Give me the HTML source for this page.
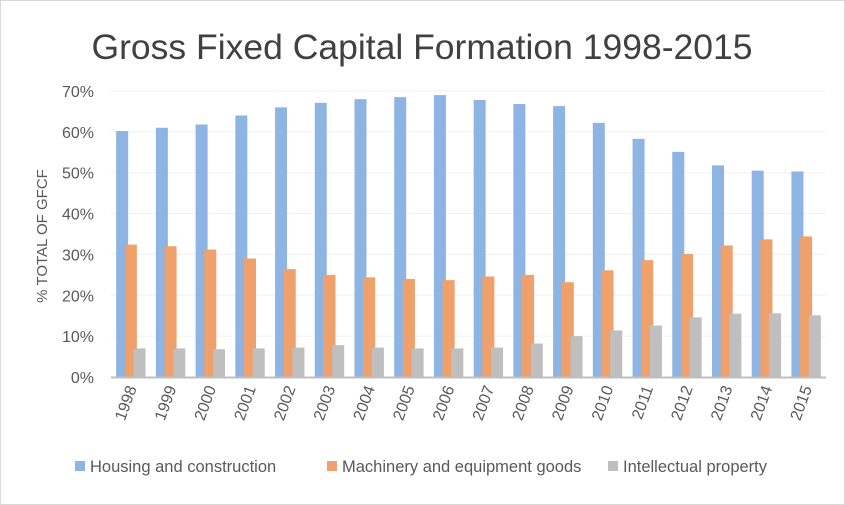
<!DOCTYPE html>
<html><head><meta charset="utf-8"><style>
body{margin:0;background:#fff;}
svg{display:block;font-family:"Liberation Sans",sans-serif;}
</style></head><body>
<svg id="chart" width="845" height="505" viewBox="0 0 845 505">
<rect x="0.5" y="0.5" width="844" height="504" fill="#fff" stroke="#d9d9d9"/>
<text x="422" y="59" text-anchor="middle" font-size="35.5" fill="#404040">Gross Fixed Capital Formation 1998-2015</text>
<text transform="translate(47,236) rotate(-90)" text-anchor="middle" font-size="15" fill="#595959">% TOTAL OF GFCF</text>
<g id="grid"></g><g id="bars"></g><g id="xlabels"></g>
<g font-size="16.5" fill="#595959">
<rect x="75" y="461" width="10" height="10" fill="#8db4e2"/>
<text x="90" y="472">Housing and construction</text>
<rect x="327" y="461" width="10" height="10" fill="#f0a06a"/>
<text x="342" y="472">Machinery and equipment goods</text>
<rect x="608" y="461" width="10" height="10" fill="#bfbfbf"/>
<text x="623" y="472">Intellectual property</text>
</g>
</svg>
<script>
const years=["1998","1999","2000","2001","2002","2003","2004","2005","2006","2007","2008","2009","2010","2011","2012","2013","2014","2015"];
const housing=[60.2,61,61.8,64,66,67.1,68,68.5,69,67.8,66.8,66.3,62.2,58.3,55.1,51.8,50.5,50.3];
const machinery=[32.4,32,31.2,29,26.4,25,24.4,24,23.7,24.6,25,23.2,26.1,28.6,30.1,32.2,33.7,34.4];
const intellectual=[7,7,6.8,7,7.2,7.8,7.2,7,7,7.2,8.2,10,11.4,12.6,14.6,15.5,15.6,15.1];
const yTicks=[0,10,20,30,40,50,60,70];
const NS="http://www.w3.org/2000/svg";
const x0=111,x1=826,y0=377,yTop=91,yMax=70;
const band=(x1-x0)/years.length;
function y(v){return y0-(v/yMax)*(y0-yTop);}
function xc(i){return x0+band*(i+0.5);}
function mk(t,a,p){const e=document.createElementNS(NS,t);for(const k in a)e.setAttribute(k,a[k]);p.appendChild(e);return e;}
const grid=document.getElementById('grid'),bars=document.getElementById('bars'),xl=document.getElementById('xlabels');
yTicks.forEach(t=>{
  if(t>0){const l=mk('line',{x1:x0,x2:x1,y1:y(t),y2:y(t),stroke:'#f0f0f0','stroke-width':1},grid);
  
  }
  const tx=mk('text',{x:94,y:y(t)+6,'text-anchor':'end','font-size':16,fill:'#595959'},grid);
  tx.textContent=t+'%';
  
  
});
const series=[[housing,'#8db4e2',-8.7,'housing'],[machinery,'#f0a06a',0,'machinery'],[intellectual,'#bfbfbf',8.7,'ip']];
const bw=12;
years.forEach((yr,i)=>{
  series.forEach(s=>{
    const v=s[0][i];
    const r=mk('rect',{x:xc(i)+s[2]-bw/2,y:y(v),width:bw,height:y0-y(v),fill:s[1]},bars);
    
    
  });
  const tx=mk('text',{transform:'translate('+(xc(i)+6)+',388) rotate(-70)','text-anchor':'end','font-size':16,fill:'#595959'},xl);
  tx.textContent=yr;
  
  
});
const ax=mk('line',{x1:x0,x2:x1,y1:y0+0.5,y2:y0+0.5,stroke:'#bfbfbf','stroke-width':2},bars);


</script>
</body></html>
